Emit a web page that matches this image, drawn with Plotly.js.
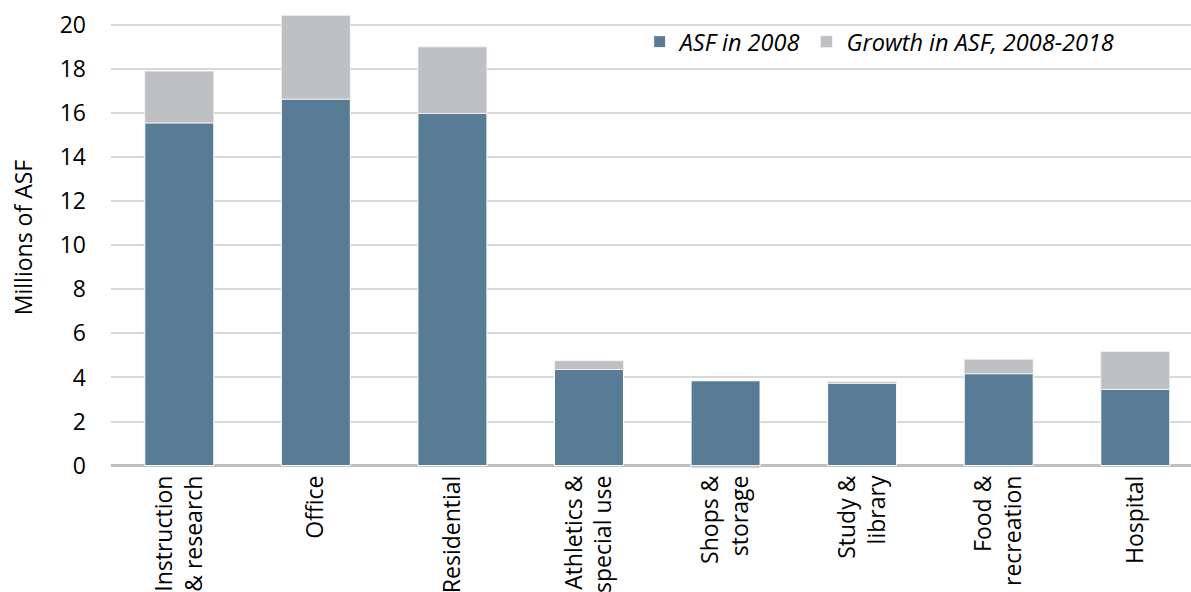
<!DOCTYPE html>
<html>
<head>
<meta charset="utf-8">
<script src="https://cdn.plot.ly/plotly-3.0.1.min.js"></script>
<style>
  html, body { margin: 0; padding: 0; background: #ffffff; }
  #chart { width: 1191px; height: 592px; }
</style>
</head>
<body>
<div id="chart"></div>
<script>
// Space categories (two-line labels use <br>)
const categories = [
  "Instruction<br>& research",
  "Office",
  "Residential",
  "Athletics &<br>special use",
  "Shops &<br>storage",
  "Study &<br>library",
  "Food &<br>recreation",
  "Hospital"
];

// Assignable square feet in 2008, millions
const asf2008 = [15.55, 16.63, 15.98, 4.36, 3.85, 3.74, 4.17, 3.46];

// Change in ASF between 2008 and 2018, millions
const growth = [2.35, 3.80, 3.02, 0.40, -0.11, 0.08, 0.66, 1.72];

const yTicks = [0, 2, 4, 6, 8, 10, 12, 14, 16, 18, 20];

const FONT = "'Open Sans', 'Noto Sans', sans-serif";
const TEXT = "#000000";
const SIZE = 23;

const traces = [
  {
    type: "bar",
    name: "ASF in 2008",
    x: categories,
    y: asf2008,
    marker: { color: "#587B96", line: { color: "#ffffff", width: 1 } },
    hoverinfo: "skip"
  },
  {
    type: "bar",
    name: "Growth in ASF, 2008-2018",
    x: categories,
    y: growth,
    marker: { color: "#BFC0C4", line: { color: "#f4f4f4", width: 0.8 } },
    hoverinfo: "skip"
  }
];

const layout = {
  width: 1191,
  height: 592,
  margin: { l: 110.5, r: 0, t: 5, b: 122 },
  paper_bgcolor: "#ffffff",
  plot_bgcolor: "#ffffff",
  barmode: "relative",
  bargap: 0.495,
  font: { family: FONT, size: SIZE, color: TEXT },
  showlegend: true,
  legend: {
    orientation: "h",
    x: 0.4895,
    xanchor: "left",
    y: 0.968,
    yanchor: "top",
    traceorder: "normal",
    font: { family: FONT, size: 23.5, color: TEXT, style: "italic" },
    itemwidth: 30,
    bgcolor: "rgba(0,0,0,0)"
  },
  xaxis: {
    type: "category",
    range: [-0.5, 7.408],
    showgrid: false,
    showline: false,
    zeroline: false,
    ticks: "",
    tickangle: -90,
    tickfont: { family: FONT, size: SIZE, color: TEXT },
    fixedrange: true
  },
  yaxis: {
    range: [-0.2, 20.9],
    tickvals: yTicks,
    ticktext: yTicks.map(String),
    showgrid: true,
    gridcolor: "#D9D9D9",
    gridwidth: 2,
    zeroline: true,
    zerolinecolor: "#BFBFBF",
    zerolinewidth: 3,
    showline: false,
    ticks: "",
    ticklabelstandoff: 24,
    tickfont: { family: FONT, size: SIZE, color: TEXT },
    title: { text: "Millions of ASF", font: { family: FONT, size: SIZE, color: TEXT }, standoff: 20 },
    fixedrange: true
  }
};

Plotly.newPlot("chart", traces, layout, { displayModeBar: false, staticPlot: true });
</script>
</body>
</html>
